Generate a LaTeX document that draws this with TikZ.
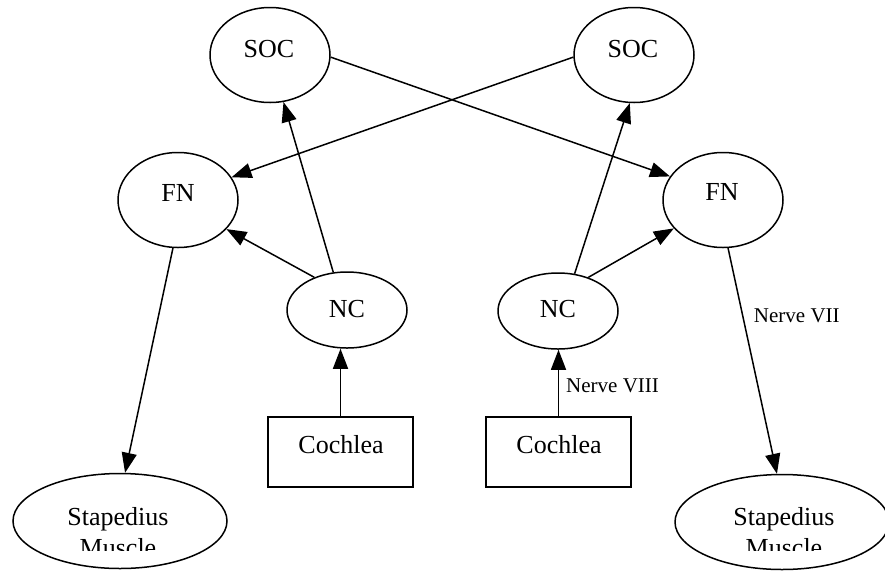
\documentclass[tikz,border=0pt]{standalone}
\usepackage{fontspec}
\setmainfont{Liberation Serif}
\usetikzlibrary{shapes.geometric,arrows.meta}
\begin{document}
\begin{tikzpicture}[x=1pt,y=-1pt,
  oval/.style={ellipse,draw,line width=1.5pt,inner sep=0pt},
  small/.style={oval,minimum width=120pt,minimum height=95pt},
  ncoval/.style={oval,minimum width=120pt,minimum height=76pt},
  bigoval/.style={oval,minimum width=214pt,minimum height=95pt},
  cbox/.style={rectangle,draw,line width=1.5pt,inner sep=0pt,minimum width=145pt,minimum height=70pt},
  txt/.style={inner sep=0pt,anchor=base,font=\fontsize{26}{31}\selectfont},
  lbl/.style={inner sep=0pt,anchor=base west,font=\fontsize{21}{25}\selectfont},
  arr/.style={line width=1.5pt,-{Triangle[length=20pt,width=15pt]}}]
\useasboundingbox (0,0) rectangle (885,571);
\clip (0,0) rectangle (885,571);

% nodes
\node[small] (socL) at (270,55) {};
\node[small] (socR) at (634,55) {};
\node[small] (fnL) at (178,200) {};
\node[small] (fnR) at (723,200) {};
\node[ncoval] (ncL) at (347,310) {};
\node[ncoval] (ncR) at (558,311) {};
\node[cbox] (coL) at (340.5,452) {};
\node[cbox] (coR) at (558.5,452) {};
\node[bigoval] (stL) at (120,521) {};
\node[bigoval] (stR) at (782,522) {};

% texts
\node[txt] (socLt) at (269,57) {SOC};
\node[txt] (socRt) at (633,57) {SOC};
\node[txt] (fnLt) at (178,201) {FN};
\node[txt] (fnRt) at (722,200) {FN};
\node[txt] (ncLt) at (347,317) {NC};
\node[txt] (ncRt) at (558,317) {NC};
\node[txt] (coLt) at (341,453) {Cochlea};
\node[txt] (coRt) at (559,453) {Cochlea};
\begin{scope}
\clip (0,0) rectangle (885,550);
\node[txt] (stLt1) at (118,525) {Stapedius};
\node[txt] (stLt2) at (118,556) {Muscle};
\node[txt] (stRt1) at (784,525) {Stapedius};
\node[txt] (stRt2) at (784,556) {Muscle};
\end{scope}

% connectors
\draw[arr] (socL.-2) -- (fnR.156);
\draw[arr] (socR.182) -- (fnL.23);
\draw[arr] (ncL.135) -- (fnL.-31);
\draw[arr] (ncL.110) -- (socL.-74);
\draw[arr] (ncR.66) -- (socR.-95);
\draw[arr] (ncR.48) -- (fnR.210);
\draw[arr] (fnL.-96) -- (stL.84);
\draw[arr] (fnR.-84) -- node[lbl, pos=0.33, xshift=9pt] (n7) {Nerve VII} (stR.96);
\draw[arr] (coL.north) -- (coL.north |- ncL.south);
\draw[arr] (coR.north) -- (coR.north |- ncR.south);
\node[lbl] (n8) at (566,392) {Nerve VIII};
\end{tikzpicture}
\end{document}
